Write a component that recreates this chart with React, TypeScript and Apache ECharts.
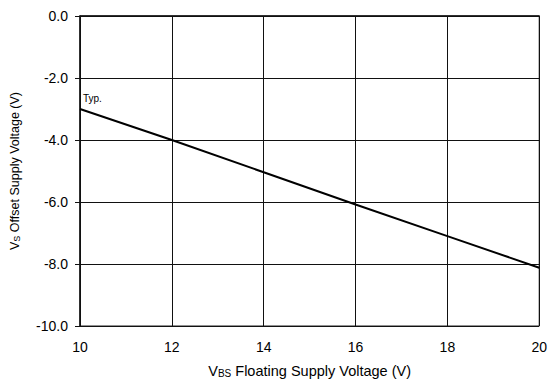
import React, { useEffect, useRef } from "react";
import * as echarts from "echarts";

const vbs = [10, 12, 14, 16, 18, 20];
const vsOffset = [-3.0, -4.0, -5.04, -6.08, -7.1, -8.12];
const seriesLabel = "Typ.";
const xName = "{v|V}{sub|BS}{n| Floating Supply Voltage (V)}";
const yName = "{v|V}{sub|S}{n| Offset Supply Voltage (V)}";

const FONT = "'Liberation Sans', Arial, Helvetica, sans-serif";

export default function App() {
  const ref = useRef<HTMLDivElement>(null);
  useEffect(() => {
    if (!ref.current) return;
    const chart = echarts.init(ref.current, undefined, { renderer: "svg" });
    const data = vbs.map((x, i) =>
      i === 0
        ? {
            value: [x, vsOffset[i]],
            label: {
              show: true,
              formatter: seriesLabel,
              position: [3, -16],
              fontSize: 10,
              color: "#000",
              fontFamily: FONT,
            },
          }
        : { value: [x, vsOffset[i]] }
    );
    const richX = {
      v: { fontSize: 14.5, fontFamily: FONT, color: "#000" },
      sub: { fontSize: 10, fontFamily: FONT, color: "#000", verticalAlign: "bottom", padding: [4, 0, 0, 0] },
      n: { fontSize: 14.5, fontFamily: FONT, color: "#000" },
    };
    const richY = {
      v: { fontSize: 12.5, fontFamily: FONT, color: "#000" },
      sub: { fontSize: 9, fontFamily: FONT, color: "#000", verticalAlign: "bottom", padding: [4, 0, 0, 0] },
      n: { fontSize: 12.5, fontFamily: FONT, color: "#000" },
    };
    chart.setOption({
      animation: false,
      backgroundColor: "#fff",
      grid: {
        left: 77,
        right: 10,
        top: 16,
        bottom: 56,
        show: true,
        borderColor: "#222",
        borderWidth: 1,
        backgroundColor: "transparent",
      },
      xAxis: {
        type: "value",
        min: 10,
        max: 20,
        interval: 2,
        name: xName,
        nameLocation: "middle",
        nameGap: 37,
        nameTextStyle: { rich: richX },
        axisLine: { show: true, lineStyle: { color: "#111", width: 1.5 } },
        axisTick: { show: true, length: 5, lineStyle: { color: "#111" } },
        axisLabel: { fontSize: 14, color: "#000", fontFamily: FONT, margin: 14 },
        splitLine: { show: true, lineStyle: { color: "#111", width: 1 } },
      },
      yAxis: {
        type: "value",
        min: -10,
        max: 0,
        interval: 2,
        name: yName,
        nameLocation: "middle",
        nameGap: 59,
        nameRotate: 90,
        nameTextStyle: { rich: richY },
        axisLine: { show: true, lineStyle: { color: "#111", width: 1.5 } },
        axisTick: { show: true, length: 5, lineStyle: { color: "#111" } },
        axisLabel: {
          fontSize: 14,
          color: "#000",
          fontFamily: FONT,
          margin: 12,
          formatter: (v: number) => v.toFixed(1),
        },
        splitLine: { show: true, lineStyle: { color: "#111", width: 1 } },
      },
      series: [
        {
          type: "line",
          data,
          symbol: "circle",
          symbolSize: 0,
          showSymbol: true,
          lineStyle: { color: "#000", width: 2 },
          itemStyle: { color: "#000" },
          label: { show: false },
        },
      ],
    });
    return () => chart.dispose();
  }, []);
  return <div ref={ref} style={{ width: 550, height: 383, position: "absolute", left: 0, top: 0 }} />;
}
